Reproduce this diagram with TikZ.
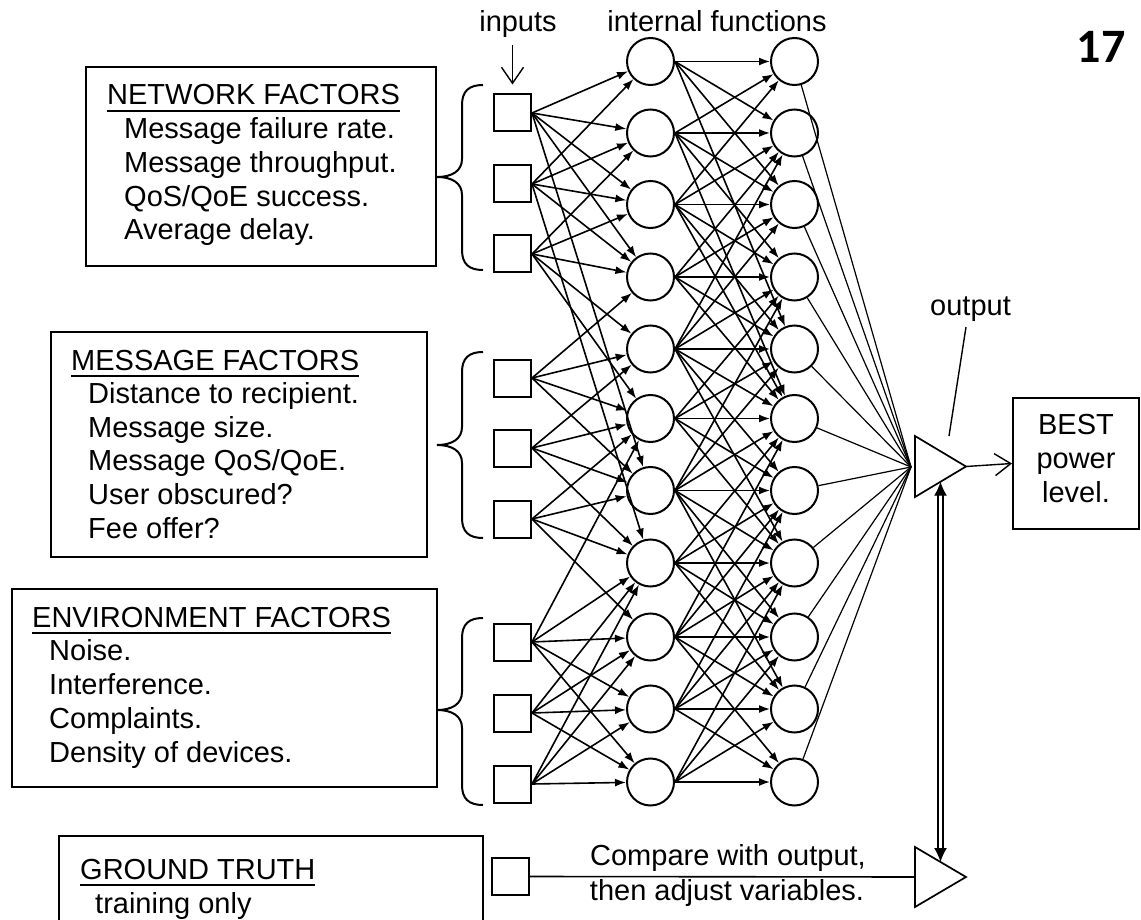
\documentclass[tikz,border=0pt]{standalone}
\usepackage{fontspec}
\setmainfont{Liberation Sans}
\newfontfamily\pagefont{Carlito}
\usetikzlibrary{arrows.meta,calc}
\def\inbrace(#1:#2:#3){\draw[line width=2pt] (483,#1) .. controls (469,#1) and (462,#1+6) .. (462,#1+20) -- (462,#2-18) .. controls (462,#2-6) and (452,#2) .. (437,#2) .. controls (452,#2) and (462,#2+6) .. (462,#2+18) -- (462,#3-20) .. controls (462,#3-6) and (469,#3) .. (483,#3);}
\newcommand\ultitle[1]{\setbox0\hbox{#1}\rlap{\rule[-7pt]{\wd0}{2pt}}\box0}
\tikzset{
  unit/.style={draw, line width=2pt, minimum size=37pt, inner sep=0pt},
  neuron/.style={draw, circle, line width=2pt, minimum size=47pt, inner sep=0pt},
  link/.style={line width=1.6pt, -{Latex[length=11pt,width=8pt]}},
  feed/.style={line width=1.2pt},
  pointer/.style={line width=1.4pt, -{Straight Barb[length=16pt,width=22pt,line width=1.4pt]}},
  factbox/.style={draw, line width=2pt, inner sep=0pt},
  txt/.style={anchor=base west, inner sep=0pt},
  lbl/.style={anchor=base, inner sep=0pt}
}
\begin{document}
\begin{tikzpicture}[x=1pt, y=-1pt, font=\fontsize{29}{33.75}\selectfont]
			%%%%% START %%%%%
			\useasboundingbox (0,0) rectangle (1141,920);
			
			\node[lbl] (inlab) at (518,32) {inputs};
			\node[lbl] (fnlab) at (717,32) {internal functions};
			\node[lbl, font=\pagefont\bfseries\fontsize{48}{48}\selectfont] (pagenum) at (1101,63) {17};
			
			%% factor boxes
			\node[factbox, minimum width=350pt, minimum height=199pt] (netbox) at (261,166.5) {};
			\node[txt] (nettitle) at (107,105) {\ultitle{NETWORK FACTORS}};
			\foreach \t [count=\k] in {Message failure rate., Message throughput., QoS/QoE success., Average delay.}
				\node[txt] (net\k) at (124,105+33.75*\k) {\t};
			
			\node[factbox, minimum width=376pt, minimum height=225pt] (msgbox) at (239,444.5) {};
			\node[txt] (msgtitle) at (71,370) {\ultitle{MESSAGE FACTORS}};
			\foreach \t [count=\k] in {Distance to recipient., Message size., Message QoS/QoE., User obscured?, Fee offer?}
				\node[txt] (msg\k) at (88,370+33.6*\k) {\t};
			
			\node[factbox, minimum width=425pt, minimum height=198pt] (envbox) at (224.5,688) {};
			\node[txt] (envtitle) at (32,627) {\ultitle{ENVIRONMENT FACTORS}};
			\foreach \t [count=\k] in {Noise., Interference., Complaints., Density of devices.}
				\node[txt] (env\k) at (49,627+33.75*\k) {\t};
			
			\node[factbox, minimum width=424pt, minimum height=130pt] (gtbox) at (271,901) {};
			\node[txt] (gttitle) at (80,879) {\ultitle{GROUND TRUTH}};
			\node[txt] (gt1) at (95,913) {training only};
			
			\inbrace(85:177:270)
			\inbrace(352:445:538)
			\inbrace(618:710:805)
			
			%% inputs
			\foreach \y [count=\k] in {113,184,254,378,448,519,642,713,784}
				\node[unit] (s\k) at (512.5,\y) {};
			\node[unit] (gts) at (510,876.5) {};
			\draw[pointer, shorten <=7pt, shorten >=9pt] (inlab.south -| s1.north) -- (s1.north);
			
			%% internal functions
			\foreach \y [count=\k] in {61.5,133,204.5,277,349,418.5,490.5,563,637,709,782}{
				\node[neuron] (c\k) at (650.5,\y) {};
				\node[neuron] (d\k) at (794.5,\y) {};
			}
			
			\foreach \j in {1,2,3,4,7} \draw[link] (s1.east) -- (c\j);
			\foreach \j in {1,2,3,4,8} \draw[link] (s2.east) -- (c\j);
			\foreach \j in {2,3,4,5,6} \draw[link] (s3.east) -- (c\j);
			\foreach \j in {4,5,6,7} \draw[link] (s4.east) -- (c\j);
			\foreach \j in {5,6,7,8} \draw[link] (s5.east) -- (c\j);
			\foreach \j in {6,7,8,9} \draw[link] (s6.east) -- (c\j);
			\foreach \j in {6,8,9,10,11} \draw[link] (s7.east) -- (c\j);
			\foreach \j in {8,9,10,11} \draw[link] (s8.east) -- (c\j);
			\foreach \j in {8,9,10,11} \draw[link] (s9.east) -- (c\j);
			
			\foreach \j in {1,2,3,5} \draw[link] (c1.east) -- (d\j);
			\foreach \j in {1,2,3,4,6} \draw[link] (c2.east) -- (d\j);
			\foreach \j in {1,2,3,4,5,6} \draw[link] (c3.east) -- (d\j);
			\foreach \j in {2,3,4,5,6} \draw[link] (c4.east) -- (d\j);
			\foreach \j in {2,3,4,5,6,7,8} \draw[link] (c5.east) -- (d\j);
			\foreach \j in {4,5,6,7,8} \draw[link] (c6.east) -- (d\j);
			\foreach \j in {4,5,6,7,8,9,10} \draw[link] (c7.east) -- (d\j);
			\foreach \j in {6,7,8,9,10} \draw[link] (c8.east) -- (d\j);
			\foreach \j in {6,7,8,9,10,11} \draw[link] (c9.east) -- (d\j);
			\foreach \j in {7,8,9,10,11} \draw[link] (c10.east) -- (d\j);
			\foreach \j in {8,9,10,11} \draw[link] (c11.east) -- (d\j);
			
			%% output
			\coordinate (outA) at (915,436);
			\coordinate (outtip) at (966,466.5);
			\coordinate (outB) at (915,497);
			\coordinate (outin) at (911,467);
			\coordinate (outbot) at (940.5,481.7);
			\draw[line width=1.7pt] (outA) -- (outtip) -- (outB) -- cycle;
			\foreach \k in {1,...,11} \draw[feed] (d\k) -- (outin);
			
			\node[lbl] (outlab) at (970.5,316) {output};
			\coordinate (leadtop) at (966,327);
			\coordinate (leadend) at (949,436);
			\draw[line width=1.4pt] (leadtop) -- (leadend);
			
			\node[factbox, minimum width=126pt, minimum height=131pt] (best) at (1076,463.5) {};
			\node[inner sep=0pt, align=center] (bestxt) at (1076,458.5) {BEST\\power\\level.};
			\draw[pointer] (outtip) -- (best.west);
			
			%% compare
			\coordinate (cmpA) at (915,847);
			\coordinate (cmptip) at (966,877);
			\coordinate (cmpB) at (915,907);
			\coordinate (cmpin) at (915,877);
			\coordinate (cmptop) at (940.5,862);
			\draw[line width=1.7pt] (cmpA) -- (cmptip) -- (cmpB) -- cycle;
			\draw[line width=1.6pt] (gts.east) -- (cmpin);
			\node[lbl] (cmp1) at (728,865) {Compare with output,};
			\node[lbl] (cmp2) at (727,900) {then adjust variables.};
			
			\draw[line width=1.4pt, double distance=3.5pt, {Latex[length=14pt,width=13pt]}-{Latex[length=14pt,width=13pt]}] (outbot) -- (cmptop);
			
			%%%%% END %%%%%
\end{tikzpicture}
\end{document}
